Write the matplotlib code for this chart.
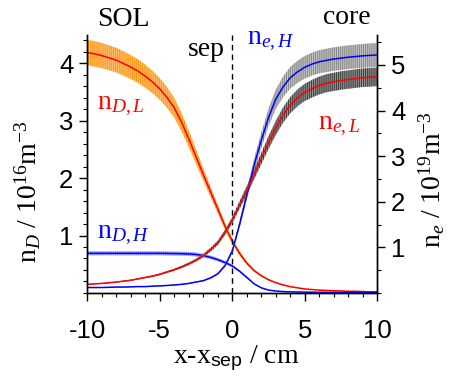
import numpy as np
import matplotlib
matplotlib.use("Agg")
import matplotlib.pyplot as plt
from matplotlib.ticker import MultipleLocator, FixedLocator

plt.rcParams['font.family'] = ['Liberation Sans', 'DejaVu Sans']
plt.rcParams['mathtext.fontset'] = 'custom'
plt.rcParams['mathtext.rm'] = 'Liberation Serif'
plt.rcParams['mathtext.it'] = 'Liberation Serif:italic'
plt.rcParams['mathtext.sf'] = 'Liberation Sans'
plt.rcParams['axes.unicode_minus'] = False
plt.rcParams['hatch.linewidth'] = 0.8

# radial position relative to separatrix (cm)
x_cm = [-10, -9.5, -9, -8.5, -8, -7.5, -7, -6.5, -6, -5.5, -5, -4.5, -4, -3.5, -3,
        -2.5, -2, -1.5, -1, -0.5, 0, 0.5, 1, 1.5, 2, 2.5, 3, 3.5, 4, 4.5, 5,
        5.5, 6, 6.5, 7, 7.5, 8, 8.5, 9, 9.5, 10]

# neutral density, left axis (1e16 m^-3)
n_D_L = [4.18, 4.16, 4.13, 4.09, 4.05, 3.99, 3.93, 3.86, 3.77, 3.67, 3.55, 3.40,
         3.22, 2.97, 2.68, 2.37, 2.06, 1.76, 1.46, 1.16, 0.90, 0.69, 0.52, 0.39,
         0.30, 0.23, 0.18, 0.14, 0.11, 0.09, 0.07, 0.06, 0.05, 0.045, 0.04,
         0.035, 0.03, 0.03, 0.025, 0.02, 0.02]
n_D_H = [0.69, 0.69, 0.69, 0.69, 0.69, 0.69, 0.69, 0.69, 0.69, 0.69, 0.69, 0.688,
         0.686, 0.684, 0.68, 0.67, 0.65, 0.62, 0.58, 0.53, 0.47, 0.38, 0.27, 0.16,
         0.09, 0.05, 0.035, 0.025, 0.02, 0.018, 0.015, 0.014, 0.013, 0.012, 0.011,
         0.01, 0.01, 0.01, 0.01, 0.01, 0.01]

# electron density, right axis (1e19 m^-3)
n_e_H = [0.12, 0.12, 0.12, 0.125, 0.13, 0.13, 0.135, 0.14, 0.14, 0.15, 0.155, 0.165,
         0.175, 0.19, 0.21, 0.24, 0.27, 0.33, 0.42, 0.60, 0.92, 1.50, 2.15, 2.80,
         3.35, 3.85, 4.25, 4.52, 4.72, 4.85, 4.95, 5.02, 5.07, 5.10, 5.13, 5.15,
         5.17, 5.185, 5.20, 5.21, 5.22]
n_e_L = [0.19, 0.20, 0.21, 0.225, 0.24, 0.26, 0.28, 0.31, 0.34, 0.37, 0.41, 0.46,
         0.51, 0.57, 0.64, 0.72, 0.82, 0.95, 1.10, 1.33, 1.60, 1.93, 2.25, 2.60,
         2.95, 3.30, 3.62, 3.90, 4.12, 4.28, 4.40, 4.48, 4.55, 4.60, 4.63, 4.66,
         4.68, 4.70, 4.72, 4.73, 4.74]

# relative uncertainty of each profile
rel_err_D_L = 0.053
rel_err_D_H = 0.05
rel_err_e_H = 0.05
rel_err_e_L = 0.043

x = np.array(x_cm)


def band(ax, y, rel, face, stripe):
    y = np.array(y)
    ax.fill_between(x, y * (1 - rel), y * (1 + rel), facecolor=face,
                    edgecolor=stripe, hatch='|' * 8, linewidth=0)


fig = plt.figure(figsize=(4.51, 3.83), dpi=100)
ax = fig.add_axes([0.1936, 0.235, 0.643, 0.674])
ax2 = ax.twinx()

band(ax, n_D_L, rel_err_D_L, '#ffc070', '#ff9a1a')
band(ax, n_D_H, rel_err_D_H, '#b4b4ff', '#8c8cff')
ax.plot(x, n_D_L, color='red', lw=1.1)
ax.plot(x, n_D_H, color='blue', lw=1.1)

band(ax2, n_e_H, rel_err_e_H, '#c8c8c8', '#8a8a8a')
band(ax2, n_e_L, rel_err_e_L, '#9a9a9a', '#404040')
ax2.plot(x, n_e_H, color='blue', lw=1.1)
ax2.plot(x, n_e_L, color='red', lw=1.1)

ax.axvline(0, color='black', lw=1.0, ls=(0, (4, 3)))

ax.set_xlim(-10, 10)
ax.set_ylim(0, 4.49)
ax2.set_ylim(0, 5.66)

ax.xaxis.set_major_locator(FixedLocator([-10, -5, 0, 5, 10]))
ax.xaxis.set_minor_locator(MultipleLocator(1))
ax.yaxis.set_major_locator(FixedLocator([1, 2, 3, 4]))
ax.yaxis.set_minor_locator(MultipleLocator(0.2))
ax2.yaxis.set_major_locator(FixedLocator([1, 2, 3, 4, 5]))
ax2.yaxis.set_minor_locator(MultipleLocator(0.5))

for a in (ax, ax2):
    a.spines['top'].set_visible(False)
    for s in a.spines.values():
        s.set_linewidth(1.0)
    a.tick_params(which='major', direction='out', length=6, width=1.0,
                  labelsize=18.5, pad=4)
    a.tick_params(which='minor', direction='out', length=3, width=0.8)
ax.tick_params(axis='x', which='major', pad=13)

serif = 'Liberation Serif'
fs = 20
fig.text(28 / 451, 1 - 192 / 383, r'n$_{D}$ / 10$^{16}$m$^{-3}$', rotation=90,
         ha='center', va='center', fontsize=fs, family=serif)
fig.text(432 / 451, 1 - 180 / 383, r'n$_{e}$ / 10$^{19}$m$^{-3}$', rotation=90,
         ha='center', va='center', fontsize=fs, family=serif)
fig.text(236 / 451, 1 - 358 / 383, r'x-x$_{\mathsf{sep}}$ / cm',
         ha='center', va='center', fontsize=fs, family=serif)

fig.text(123 / 451, 1 - 19 / 383, 'SOL', ha='center', va='center', fontsize=fs, family=serif)
fig.text(347 / 451, 1 - 17 / 383, 'core', ha='center', va='center', fontsize=fs, family=serif)
fig.text(206 / 451, 1 - 50 / 383, 'sep', ha='center', va='center', fontsize=fs, family=serif)
fig.text(97 / 451, 1 - 105 / 383, r'n$_{D,L}$', color='red', ha='left', va='center',
         fontsize=fs, family=serif)
fig.text(97 / 451, 1 - 234 / 383, r'n$_{D,H}$', color='blue', ha='left', va='center',
         fontsize=fs, family=serif)
fig.text(247 / 451, 1 - 40 / 383, r'n$_{e,H}$', color='blue', ha='left', va='center',
         fontsize=fs, family=serif)
fig.text(318 / 451, 1 - 125 / 383, r'n$_{e,L}$', color='red', ha='left', va='center',
         fontsize=fs, family=serif)

fig.savefig('out.png', dpi=100)
